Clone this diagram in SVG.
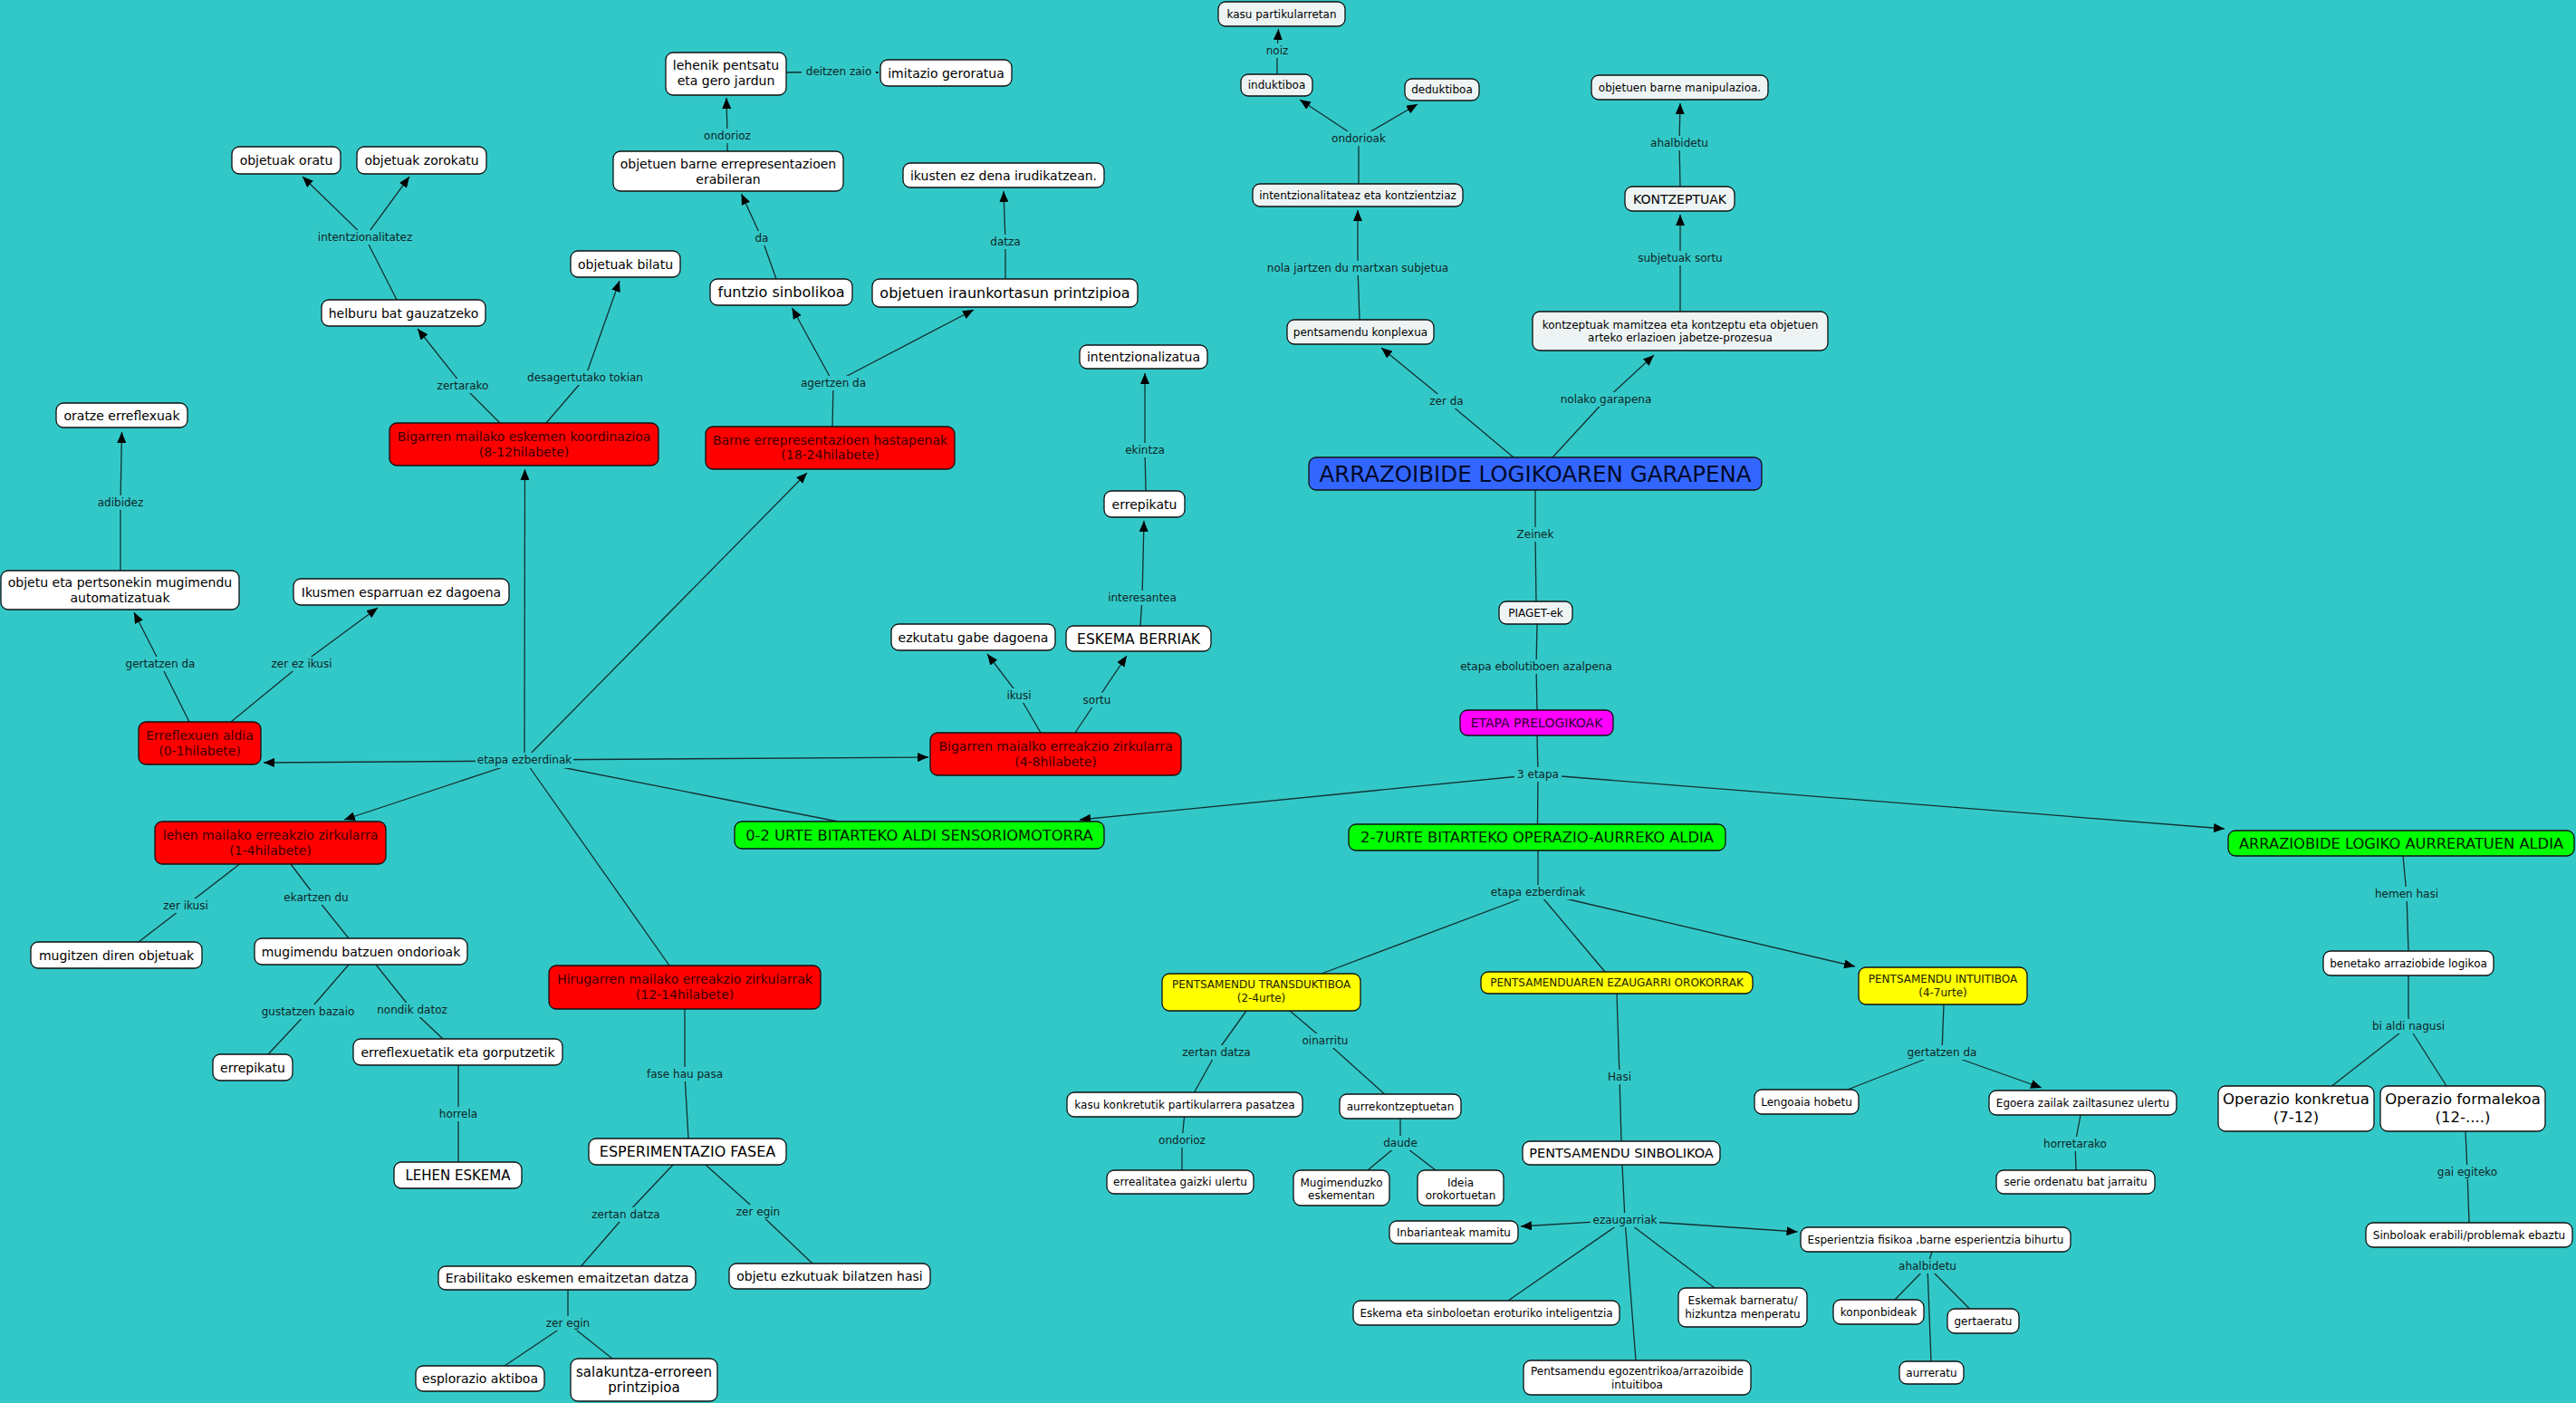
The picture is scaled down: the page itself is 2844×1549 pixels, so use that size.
<svg xmlns="http://www.w3.org/2000/svg" width="2844" height="1549" viewBox="0 0 2844 1549">
<defs>
<marker id="ah" viewBox="0 0 12 10" refX="12" refY="5" markerWidth="12" markerHeight="10" markerUnits="userSpaceOnUse" orient="auto"><path d="M0,0 L12,5 L0,10 z" fill="#000"/></marker>
<style>
text{font-family:"DejaVu Sans",Verdana,"Liberation Sans",sans-serif;text-anchor:middle}
#connectors line{stroke:#143030;stroke-width:1.3;fill:none}
#connectors line.a{marker-end:url(#ah)}
.n rect{stroke:#111;stroke-width:1.3}
.w{fill:#fff}.g{fill:#EEF4F4}.r{fill:#FF0000}.gr{fill:#00FF00}.y{fill:#FFFF00}.m{fill:#FF00FF}.b{fill:#3366FF}
.t14{font-size:14px;fill:#000}.t12{font-size:12px;fill:#000}.t15{font-size:15px;fill:#000}.t155{font-size:15.5px;fill:#000}.t16{font-size:16px;fill:#000}.t165{font-size:16.5px;fill:#000}.t145{font-size:14.5px;fill:#000}
.tr{font-size:14px;fill:#3b0000}.tg{font-size:16.3px;fill:#002200}.ty{font-size:12px;fill:#222200}.tm{font-size:14px;fill:#330033}.tb{font-size:24.5px;fill:#000a2a}
.lb rect{fill:#33C8C8}.lb text{font-size:12px;fill:#0d2626}
</style>
</defs>
<rect width="2844" height="1549" fill="#33C8C8"/>
<g id="connectors">
<line x1="438" y1="331" x2="403" y2="262"/><line class="a" x1="403" y1="262" x2="334" y2="195"/><line class="a" x1="403" y1="262" x2="452" y2="195"/>
<line x1="552" y1="467" x2="511" y2="426"/><line class="a" x1="511" y1="426" x2="461" y2="363"/>
<line x1="603" y1="467" x2="646" y2="417"/><line class="a" x1="646" y1="417" x2="684" y2="310"/>
<line x1="133" y1="630" x2="133" y2="555"/><line class="a" x1="133" y1="555" x2="134.5" y2="477"/>
<line x1="209" y1="797" x2="177" y2="733"/><line class="a" x1="177" y1="733" x2="148" y2="676"/>
<line x1="255" y1="797" x2="333" y2="733"/><line class="a" x1="333" y1="733" x2="417" y2="671"/>
<line x1="925" y1="907" x2="579" y2="839"/>
<line class="a" x1="579" y1="840" x2="291" y2="842"/>
<line class="a" x1="579" y1="839" x2="380" y2="905"/>
<line class="a" x1="579" y1="839" x2="579.5" y2="518"/>
<line class="a" x1="579" y1="839" x2="891" y2="522"/>
<line class="a" x1="579" y1="839" x2="1025" y2="836"/>
<line x1="579" y1="839" x2="739" y2="1066"/>
<line x1="264.5" y1="954" x2="205" y2="1000"/><line x1="205" y1="1000" x2="153" y2="1040"/>
<line x1="321" y1="954" x2="349" y2="991"/><line x1="349" y1="991" x2="385" y2="1036"/>
<line x1="385" y1="1065" x2="340" y2="1117"/><line x1="340" y1="1117" x2="296" y2="1164"/>
<line x1="415" y1="1065" x2="455" y2="1115"/><line x1="455" y1="1115" x2="489" y2="1147"/>
<line x1="506" y1="1176" x2="506" y2="1230"/><line x1="506" y1="1230" x2="506" y2="1283"/>
<line x1="756" y1="1114" x2="756" y2="1186"/><line x1="756" y1="1186" x2="760" y2="1257"/>
<line x1="743" y1="1286" x2="691" y2="1341"/><line x1="691" y1="1341" x2="641.5" y2="1398"/>
<line x1="779" y1="1286" x2="837" y2="1338"/><line x1="837" y1="1338" x2="897" y2="1395"/>
<line x1="627" y1="1424" x2="627" y2="1461"/><line x1="627" y1="1461" x2="557" y2="1508"/><line x1="627" y1="1461" x2="676" y2="1500"/>
<line x1="803" y1="167" x2="803" y2="150"/><line class="a" x1="803" y1="150" x2="802" y2="108"/>
<line x1="868" y1="80" x2="926" y2="79"/><line class="a" x1="926" y1="79" x2="970" y2="80"/>
<line x1="857" y1="308" x2="841" y2="263"/><line class="a" x1="841" y1="263" x2="818.5" y2="214"/>
<line x1="919" y1="471" x2="920" y2="423"/><line class="a" x1="920" y1="423" x2="874.5" y2="340"/><line class="a" x1="920" y1="423" x2="1075" y2="342"/>
<line x1="1110" y1="308" x2="1110" y2="267"/><line class="a" x1="1110" y1="267" x2="1108" y2="211"/>
<line x1="1265" y1="542" x2="1264" y2="497"/><line class="a" x1="1264" y1="497" x2="1264" y2="412"/>
<line x1="1259" y1="691" x2="1261" y2="660"/><line class="a" x1="1261" y1="660" x2="1263" y2="575"/>
<line x1="1149" y1="809" x2="1125" y2="768"/><line class="a" x1="1125" y1="768" x2="1090" y2="722"/>
<line x1="1187" y1="809" x2="1211" y2="773"/><line class="a" x1="1211" y1="773" x2="1244" y2="724"/>
<line x1="1410" y1="82" x2="1410" y2="56"/><line class="a" x1="1410" y1="56" x2="1411.5" y2="32"/>
<line x1="1500" y1="203" x2="1500" y2="153"/><line class="a" x1="1500" y1="153" x2="1435" y2="110"/><line class="a" x1="1500" y1="153" x2="1565" y2="115"/>
<line x1="1501" y1="353" x2="1499" y2="296"/><line class="a" x1="1499" y1="296" x2="1499" y2="232"/>
<line x1="1671" y1="505" x2="1597" y2="443"/><line class="a" x1="1597" y1="443" x2="1525" y2="384"/>
<line x1="1714" y1="505" x2="1773" y2="441"/><line class="a" x1="1773" y1="441" x2="1826" y2="392"/>
<line x1="1855" y1="344" x2="1855" y2="285"/><line class="a" x1="1855" y1="285" x2="1855" y2="237"/>
<line x1="1855" y1="206" x2="1854" y2="158"/><line class="a" x1="1854" y1="158" x2="1855" y2="114"/>
<line x1="1695" y1="541" x2="1695" y2="590"/><line x1="1695" y1="590" x2="1696" y2="664"/>
<line x1="1697" y1="689" x2="1696" y2="736"/><line x1="1696" y1="736" x2="1697" y2="784"/>
<line x1="1697" y1="812" x2="1698" y2="855"/><line x1="1698" y1="855" x2="1697.5" y2="910"/>
<line class="a" x1="1698" y1="855" x2="1192" y2="905"/><line class="a" x1="1698" y1="855" x2="2456" y2="915"/>
<line x1="1698" y1="939" x2="1698" y2="985"/><line x1="1698" y1="985" x2="1459" y2="1075"/><line x1="1698" y1="985" x2="1772" y2="1073"/><line class="a" x1="1698" y1="985" x2="2048" y2="1067"/>
<line x1="1376" y1="1116" x2="1343" y2="1162"/><line x1="1343" y1="1162" x2="1318.5" y2="1206"/>
<line x1="1307.5" y1="1233" x2="1305" y2="1259"/><line x1="1305" y1="1259" x2="1305" y2="1292"/>
<line x1="1424" y1="1116" x2="1463" y2="1149"/><line x1="1463" y1="1149" x2="1528.6" y2="1208"/>
<line x1="1546" y1="1235" x2="1546" y2="1262"/><line x1="1546" y1="1262" x2="1510" y2="1292"/><line x1="1546" y1="1262" x2="1585" y2="1292"/>
<line x1="1785" y1="1097" x2="1788" y2="1189"/><line x1="1788" y1="1189" x2="1790" y2="1260"/>
<line x1="1791" y1="1286" x2="1794" y2="1347"/><line class="a" x1="1794" y1="1347" x2="1679" y2="1354"/><line class="a" x1="1794" y1="1347" x2="1984.5" y2="1360"/>
<line x1="1794" y1="1347" x2="1665" y2="1436"/><line x1="1794" y1="1347" x2="1893" y2="1422"/><line x1="1794" y1="1347" x2="1806" y2="1502"/>
<line x1="2146" y1="1109" x2="2144" y2="1162"/><line x1="2144" y1="1162" x2="2040" y2="1203"/><line class="a" x1="2144" y1="1162" x2="2254" y2="1201"/>
<line x1="2297" y1="1231" x2="2291" y2="1263"/><line x1="2291" y1="1263" x2="2292" y2="1292"/>
<line x1="2133" y1="1382" x2="2128" y2="1398"/><line x1="2128" y1="1398" x2="2092" y2="1435"/><line x1="2128" y1="1398" x2="2174.5" y2="1445"/><line x1="2128" y1="1398" x2="2132" y2="1503"/>
<line x1="2653" y1="945" x2="2657" y2="987"/><line x1="2657" y1="987" x2="2659" y2="1050"/>
<line x1="2659" y1="1077" x2="2659" y2="1133"/><line x1="2659" y1="1133" x2="2574.5" y2="1199"/><line x1="2659" y1="1133" x2="2701" y2="1199"/>
<line x1="2722" y1="1249" x2="2724" y2="1294"/><line x1="2724" y1="1294" x2="2726" y2="1350"/>
</g>
<g id="linking-phrases" class="lb">
<g id="l1"><rect x="344" y="254" width="119" height="16"/><text x="403" y="266">intentzionalitatez</text></g>
<g id="l2"><rect x="480" y="418" width="63" height="16"/><text x="511" y="430">zertarako</text></g>
<g id="l3"><rect x="580" y="409" width="132" height="16"/><text x="646" y="421">desagertutako tokian</text></g>
<g id="l4"><rect x="105" y="547" width="56" height="16"/><text x="133" y="559">adibidez</text></g>
<g id="l5"><rect x="136" y="725" width="82" height="16"/><text x="177" y="737">gertatzen da</text></g>
<g id="l6"><rect x="292" y="725" width="82" height="16"/><text x="333" y="737">zer ez ikusi</text></g>
<g id="l7"><rect x="525" y="831" width="108" height="17"/><text x="579" y="843">etapa ezberdinak</text></g>
<g id="l8"><rect x="174" y="992" width="63" height="16"/><text x="205" y="1004">zer ikusi</text></g>
<g id="l9"><rect x="311" y="983" width="75" height="16"/><text x="349" y="995">ekartzen du</text></g>
<g id="l10"><rect x="287" y="1109" width="107" height="16"/><text x="340" y="1121">gustatzen bazaio</text></g>
<g id="l11"><rect x="414" y="1107" width="82" height="16"/><text x="455" y="1119">nondik datoz</text></g>
<g id="l12"><rect x="481" y="1222" width="50" height="16"/><text x="506" y="1234">horrela</text></g>
<g id="l13"><rect x="712" y="1178" width="88" height="16"/><text x="756" y="1190">fase hau pasa</text></g>
<g id="l14"><rect x="650" y="1333" width="82" height="16"/><text x="691" y="1345">zertan datza</text></g>
<g id="l15"><rect x="809" y="1330" width="56" height="16"/><text x="837" y="1342">zer egin</text></g>
<g id="l16"><rect x="599" y="1453" width="56" height="16"/><text x="627" y="1465">zer egin</text></g>
<g id="l17"><rect x="775" y="142" width="56" height="16"/><text x="803" y="154">ondorioz</text></g>
<g id="l18"><rect x="885" y="71" width="82" height="16"/><text x="926" y="83">deitzen zaio</text></g>
<g id="l19"><rect x="831" y="255" width="20" height="16"/><text x="841" y="267">da</text></g>
<g id="l20"><rect x="882" y="415" width="76" height="16"/><text x="920" y="427">agertzen da</text></g>
<g id="l21"><rect x="1091" y="259" width="38" height="16"/><text x="1110" y="271">datza</text></g>
<g id="l22"><rect x="1239" y="489" width="50" height="16"/><text x="1264" y="501">ekintza</text></g>
<g id="l23"><rect x="1220" y="652" width="82" height="16"/><text x="1261" y="664">interesantea</text></g>
<g id="l24"><rect x="1106" y="760" width="38" height="16"/><text x="1125" y="772">ikusi</text></g>
<g id="l25"><rect x="1192" y="765" width="38" height="16"/><text x="1211" y="777">sortu</text></g>
<g id="l26"><rect x="1395" y="48" width="31" height="16"/><text x="1410" y="60">noiz</text></g>
<g id="l27"><rect x="1468" y="145" width="63" height="16"/><text x="1500" y="157">ondorioak</text></g>
<g id="l28"><rect x="1393" y="288" width="212" height="16"/><text x="1499" y="300">nola jartzen du martxan subjetua</text></g>
<g id="l29"><rect x="1575" y="435" width="44" height="16"/><text x="1597" y="447">zer da</text></g>
<g id="l30"><rect x="1723" y="433" width="100" height="16"/><text x="1773" y="445">nolako garapena</text></g>
<g id="l31"><rect x="1805" y="277" width="100" height="16"/><text x="1855" y="289">subjetuak sortu</text></g>
<g id="l32"><rect x="1820" y="150" width="69" height="16"/><text x="1854" y="162">ahalbidetu</text></g>
<g id="l33"><rect x="1673" y="582" width="44" height="16"/><text x="1695" y="594">Zeinek</text></g>
<g id="l34"><rect x="1609" y="728" width="174" height="16"/><text x="1696" y="740">etapa ebolutiboen azalpena</text></g>
<g id="l35"><rect x="1672" y="847" width="52" height="16"/><text x="1698" y="859">3 etapa</text></g>
<g id="l36"><rect x="1644" y="977" width="108" height="16"/><text x="1698" y="989">etapa ezberdinak</text></g>
<g id="l37"><rect x="1302" y="1154" width="82" height="16"/><text x="1343" y="1166">zertan datza</text></g>
<g id="l38"><rect x="1277" y="1251" width="56" height="16"/><text x="1305" y="1263">ondorioz</text></g>
<g id="l39"><rect x="1431" y="1141" width="63" height="16"/><text x="1463" y="1153">oinarritu</text></g>
<g id="l40"><rect x="1527" y="1254" width="38" height="16"/><text x="1546" y="1266">daude</text></g>
<g id="l41"><rect x="1773" y="1181" width="31" height="16"/><text x="1788" y="1193">Hasi</text></g>
<g id="l42"><rect x="1756" y="1339" width="76" height="16"/><text x="1794" y="1351">ezaugarriak</text></g>
<g id="l43"><rect x="2103" y="1154" width="82" height="16"/><text x="2144" y="1166">gertatzen da</text></g>
<g id="l44"><rect x="2253" y="1255" width="76" height="16"/><text x="2291" y="1267">horretarako</text></g>
<g id="l45"><rect x="2094" y="1390" width="69" height="16"/><text x="2128" y="1402">ahalbidetu</text></g>
<g id="l46"><rect x="2622" y="979" width="69" height="16"/><text x="2657" y="991">hemen hasi</text></g>
<g id="l47"><rect x="2612" y="1125" width="94" height="16"/><text x="2659" y="1137">bi aldi nagusi</text></g>
<g id="l48"><rect x="2686" y="1286" width="76" height="16"/><text x="2724" y="1298">gai egiteko</text></g>
</g>
<g id="nodes" class="n">
<g id="n_oratu"><rect class="w" x="256" y="162" width="120" height="30" rx="8"/><text class="t14" x="316" y="182">objetuak oratu</text></g>
<g id="n_zorokatu"><rect class="w" x="394" y="162" width="143" height="30" rx="8"/><text class="t14" x="465.5" y="182">objetuak zorokatu</text></g>
<g id="n_bilatu"><rect class="w" x="630" y="277" width="121" height="29" rx="8"/><text class="t14" x="690.5" y="296.5">objetuak bilatu</text></g>
<g id="n_helburu"><rect class="w" x="355" y="331" width="181" height="29" rx="8"/><text class="t14" x="445.5" y="350.5">helburu bat gauzatzeko</text></g>
<g id="n_oratze"><rect class="w" x="62" y="445" width="145" height="27" rx="8"/><text class="t14" x="134.5" y="463.5">oratze erreflexuak</text></g>
<g id="n_bigarren1"><rect class="r" x="430" y="467" width="297" height="47" rx="8"/><text class="tr" x="578.5" y="486.7">Bigarren mailako eskemen koordinazioa</text><text class="tr" x="578.5" y="504">(8-12hilabete)</text></g>
<g id="n_lehenik"><rect class="w" x="735" y="58" width="133" height="47" rx="8"/><text class="t14" x="801.5" y="76.5">lehenik pentsatu</text><text class="t14" x="801.5" y="93.5">eta gero jardun</text></g>
<g id="n_imitazio"><rect class="w" x="972" y="66" width="145" height="29" rx="8"/><text class="t14" x="1044.5" y="85.5">imitazio geroratua</text></g>
<g id="n_objbarne"><rect class="w" x="677" y="167" width="254" height="44" rx="8"/><text class="t14" x="804" y="186">objetuen barne errepresentazioen</text><text class="t14" x="804" y="203">erabileran</text></g>
<g id="n_funtzio"><rect class="w" x="784" y="308" width="157" height="29" rx="8"/><text class="t16" x="862.5" y="328.3">funtzio sinbolikoa</text></g>
<g id="n_iraunk"><rect class="w" x="963" y="308" width="293" height="31" rx="8"/><text class="t16" x="1109.5" y="329.3">objetuen iraunkortasun printzipioa</text></g>
<g id="n_ikusten"><rect class="w" x="997" y="180" width="222" height="27" rx="8"/><text class="t14" x="1108" y="198.5">ikusten ez dena irudikatzean.</text></g>
<g id="n_barne"><rect class="r" x="779" y="471" width="275" height="47" rx="8"/><text class="tr" x="916.5" y="490.7">Barne errepresentazioen hastapenak</text><text class="tr" x="916.5" y="507.3">(18-24hilabete)</text></g>
<g id="n_intentz"><rect class="w" x="1192" y="381" width="141" height="26" rx="8"/><text class="t14" x="1262.5" y="399">intentzionalizatua</text></g>
<g id="n_errepik1"><rect class="w" x="1219" y="542" width="89" height="29" rx="8"/><text class="t14" x="1263.5" y="561.5">errepikatu</text></g>
<g id="n_eskema"><rect class="w" x="1177" y="691" width="160" height="28" rx="8"/><text class="t155" x="1257" y="710.6">ESKEMA BERRIAK</text></g>
<g id="n_ezkutatu"><rect class="w" x="984" y="689" width="181" height="29" rx="8"/><text class="t14" x="1074.5" y="708.5">ezkutatu gabe dagoena</text></g>
<g id="n_bigarren2"><rect class="r" x="1027" y="809" width="277" height="47" rx="8"/><text class="tr" x="1165.5" y="828.7">Bigarren maialko erreakzio zirkularra</text><text class="tr" x="1165.5" y="845.9">(4-8hilabete)</text></g>
<g id="n_objetu"><rect class="w" x="1" y="630" width="263" height="43" rx="8"/><text class="t14" x="132.5" y="648">objetu eta pertsonekin mugimendu</text><text class="t14" x="132.5" y="664.5">automatizatuak</text></g>
<g id="n_ikusmen"><rect class="w" x="324" y="639" width="238" height="29" rx="8"/><text class="t14" x="443" y="658.5">Ikusmen esparruan ez dagoena</text></g>
<g id="n_erreflexuen"><rect class="r" x="153" y="797" width="135" height="47" rx="8"/><text class="tr" x="220.5" y="817">Erreflexuen aldia</text><text class="tr" x="220.5" y="834.2">(0-1hilabete)</text></g>
<g id="n_lehen"><rect class="r" x="171" y="907" width="255" height="47" rx="8"/><text class="tr" x="298.5" y="926.8">lehen mailako erreakzio zirkularra</text><text class="tr" x="298.5" y="944">(1-4hilabete)</text></g>
<g id="n_mugitzen"><rect class="w" x="34" y="1040" width="189" height="29" rx="8"/><text class="t14" x="128.5" y="1059.5">mugitzen diren objetuak</text></g>
<g id="n_mugimendu"><rect class="w" x="281" y="1036" width="235" height="29" rx="8"/><text class="t14" x="398.5" y="1055.5">mugimendu batzuen ondorioak</text></g>
<g id="n_errepik2"><rect class="w" x="235" y="1164" width="88" height="29" rx="8"/><text class="t14" x="279" y="1183.5">errepikatu</text></g>
<g id="n_erreflexuetatik"><rect class="w" x="390" y="1147" width="231" height="29" rx="8"/><text class="t14" x="505.5" y="1166.5">erreflexuetatik eta gorputzetik</text></g>
<g id="n_lehenesk"><rect class="w" x="435" y="1283" width="141" height="29" rx="8"/><text class="t15" x="505.5" y="1303">LEHEN ESKEMA</text></g>
<g id="n_hirugarren"><rect class="r" x="606" y="1066" width="300" height="48" rx="8"/><text class="tr" x="756" y="1086">Hirugarren mailako erreakzio zirkularrak</text><text class="tr" x="756" y="1103">(12-14hilabete)</text></g>
<g id="n_esperim"><rect class="w" x="650" y="1257" width="218" height="29" rx="8"/><text class="t16" x="759" y="1277.3">ESPERIMENTAZIO FASEA</text></g>
<g id="n_erabil"><rect class="w" x="484" y="1398" width="284" height="26" rx="8"/><text class="t14" x="626" y="1416">Erabilitako eskemen emaitzetan datza</text></g>
<g id="n_esplor"><rect class="w" x="459" y="1508" width="142" height="28" rx="8"/><text class="t14" x="530" y="1527">esplorazio aktiboa</text></g>
<g id="n_salak"><rect class="w" x="630" y="1500" width="162" height="47" rx="8"/><text class="t15" x="711" y="1520.2">salakuntza-erroreen</text><text class="t15" x="711" y="1537.3">printzipioa</text></g>
<g id="n_objezk"><rect class="w" x="805" y="1395" width="222" height="28" rx="8"/><text class="t14" x="916" y="1414">objetu ezkutuak bilatzen hasi</text></g>
<g id="n_sensor"><rect class="gr" x="811" y="907" width="408" height="30" rx="8"/><text class="tg" x="1015" y="927.8">0-2 URTE BITARTEKO ALDI SENSORIOMOTORRA</text></g>
<g id="n_kasu"><rect class="g" x="1345" y="2" width="140" height="27" rx="8"/><text class="t12" x="1415" y="19.8">kasu partikularretan</text></g>
<g id="n_indukt"><rect class="g" x="1370" y="82" width="79" height="24" rx="8"/><text class="t12" x="1409.5" y="98.3">induktiboa</text></g>
<g id="n_dedukt"><rect class="g" x="1551" y="87" width="82" height="24" rx="8"/><text class="t12" x="1592" y="103.3">deduktiboa</text></g>
<g id="n_intkontz"><rect class="g" x="1383" y="203" width="232" height="25" rx="8"/><text class="t12" x="1499" y="219.8">intentzionalitateaz eta kontzientziaz</text></g>
<g id="n_konplexua"><rect class="g" x="1421" y="353" width="162" height="27" rx="8"/><text class="t12" x="1502" y="370.8">pentsamendu konplexua</text></g>
<g id="n_kontzmam"><rect class="g" x="1692" y="344" width="326" height="43" rx="8"/><text class="t12" x="1855" y="362.6">kontzeptuak mamitzea eta kontzeptu eta objetuen</text><text class="t12" x="1855" y="377">arteko erlazioen jabetze-prozesua</text></g>
<g id="n_kontzeptuak"><rect class="g" x="1794" y="206" width="121" height="27" rx="8"/><text class="t14" x="1854.5" y="224.5">KONTZEPTUAK</text></g>
<g id="n_manip"><rect class="g" x="1757" y="83" width="195" height="27" rx="8"/><text class="t12" x="1854.5" y="100.8">objetuen barne manipulazioa.</text></g>
<g id="n_title"><rect class="b" x="1445" y="505" width="500" height="36" rx="8"/><text class="tb" x="1695" y="531.8">ARRAZOIBIDE LOGIKOAREN GARAPENA</text></g>
<g id="n_piaget"><rect class="g" x="1655" y="664" width="81" height="25" rx="8"/><text class="t12" x="1695.5" y="680.8">PIAGET-ek</text></g>
<g id="n_etapa"><rect class="m" x="1612" y="784" width="169" height="28" rx="8"/><text class="tm" x="1696.5" y="803">ETAPA PRELOGIKOAK</text></g>
<g id="n_preop"><rect class="gr" x="1489" y="910" width="416" height="29" rx="8"/><text class="tg" x="1697" y="930.3">2-7URTE BITARTEKO OPERAZIO-AURREKO ALDIA</text></g>
<g id="n_aurrer"><rect class="gr" x="2460" y="917" width="382" height="28" rx="8"/><text class="tg" x="2651" y="936.8">ARRAZIOBIDE LOGIKO AURRERATUEN ALDIA</text></g>
<g id="n_transd"><rect class="y" x="1283" y="1075" width="219" height="41" rx="8"/><text class="ty" x="1392.5" y="1090.6">PENTSAMENDU TRANSDUKTIBOA</text><text class="ty" x="1392.5" y="1105.9">(2-4urte)</text></g>
<g id="n_kasukonk"><rect class="w" x="1178" y="1206" width="260" height="27" rx="8"/><text class="t12" x="1308" y="1223.8">kasu konkretutik partikularrera pasatzea</text></g>
<g id="n_erreal"><rect class="w" x="1222" y="1292" width="162" height="26" rx="8"/><text class="t12" x="1303" y="1309.3">errealitatea gaizki ulertu</text></g>
<g id="n_aurrek"><rect class="w" x="1479" y="1208" width="134" height="27" rx="8"/><text class="t12" x="1546" y="1225.8">aurrekontzeptuetan</text></g>
<g id="n_mugimenduzko"><rect class="w" x="1428" y="1292" width="106" height="39" rx="8"/><text class="t12" x="1481" y="1309.5">Mugimenduzko</text><text class="t12" x="1481" y="1323.7">eskementan</text></g>
<g id="n_ideia"><rect class="w" x="1565" y="1292" width="95" height="39" rx="8"/><text class="t12" x="1612.5" y="1309.5">Ideia</text><text class="t12" x="1612.5" y="1323.7">orokortuetan</text></g>
<g id="n_ezaug"><rect class="y" x="1635" y="1073" width="300" height="24" rx="8"/><text class="ty" x="1785" y="1089.3">PENTSAMENDUAREN EZAUGARRI OROKORRAK</text></g>
<g id="n_sinbol"><rect class="w" x="1681" y="1260" width="218" height="26" rx="8"/><text class="t145" x="1790" y="1278.2">PENTSAMENDU SINBOLIKOA</text></g>
<g id="n_inbar"><rect class="w" x="1534" y="1348" width="142" height="25" rx="8"/><text class="t12" x="1605" y="1364.8">Inbarianteak mamitu</text></g>
<g id="n_esperientzia"><rect class="w" x="1988" y="1355" width="298" height="27" rx="8"/><text class="t12" x="2137" y="1372.8">Esperientzia fisikoa ,barne esperientzia bihurtu</text></g>
<g id="n_eskemaeta"><rect class="w" x="1494" y="1436" width="294" height="27" rx="8"/><text class="t12" x="1641" y="1453.8">Eskema eta sinboloetan eroturiko inteligentzia</text></g>
<g id="n_eskemak"><rect class="w" x="1853" y="1422" width="142" height="43" rx="8"/><text class="t12" x="1924" y="1439.9">Eskemak barneratu/</text><text class="t12" x="1924" y="1454.9">hizkuntza menperatu</text></g>
<g id="n_egozen"><rect class="w" x="1682" y="1502" width="251" height="38" rx="8"/><text class="t12" x="1807.5" y="1518.3">Pentsamendu egozentrikoa/arrazoibide</text><text class="t12" x="1807.5" y="1532.6">intuitiboa</text></g>
<g id="n_intuit"><rect class="y" x="2052" y="1068" width="186" height="41" rx="8"/><text class="ty" x="2145" y="1084.9">PENTSAMENDU INTUITIBOA</text><text class="ty" x="2145" y="1099.8">(4-7urte)</text></g>
<g id="n_lengoaia"><rect class="w" x="1937" y="1203" width="115" height="27" rx="8"/><text class="t12" x="1994.5" y="1220.8">Lengoaia hobetu</text></g>
<g id="n_egoera"><rect class="w" x="2196" y="1204" width="207" height="27" rx="8"/><text class="t12" x="2299.5" y="1221.8">Egoera zailak zailtasunez ulertu</text></g>
<g id="n_serie"><rect class="w" x="2204" y="1292" width="175" height="26" rx="8"/><text class="t12" x="2291.5" y="1309.3">serie ordenatu bat jarraitu</text></g>
<g id="n_konpon"><rect class="w" x="2024" y="1435" width="100" height="27" rx="8"/><text class="t12" x="2074" y="1452.8">konponbideak</text></g>
<g id="n_gertaeratu"><rect class="w" x="2150" y="1445" width="79" height="27" rx="8"/><text class="t12" x="2189.5" y="1462.8">gertaeratu</text></g>
<g id="n_aurreratu"><rect class="w" x="2097" y="1503" width="71" height="25" rx="8"/><text class="t12" x="2132.5" y="1519.8">aurreratu</text></g>
<g id="n_benetako"><rect class="w" x="2565" y="1050" width="188" height="27" rx="8"/><text class="t12" x="2659" y="1067.8">benetako arraziobide logikoa</text></g>
<g id="n_konkretua"><rect class="w" x="2449" y="1199" width="172" height="50" rx="8"/><text class="t165" x="2535" y="1219.4">Operazio konkretua</text><text class="t165" x="2535" y="1239.4">(7-12)</text></g>
<g id="n_formal"><rect class="w" x="2628" y="1199" width="182" height="50" rx="8"/><text class="t165" x="2719" y="1219.4">Operazio formalekoa</text><text class="t165" x="2719" y="1239.4">(12-....)</text></g>
<g id="n_sinboloak"><rect class="w" x="2612" y="1350" width="228" height="27" rx="8"/><text class="t12" x="2726" y="1367.8">Sinboloak erabili/problemak ebaztu</text></g>
</g>
</svg>
